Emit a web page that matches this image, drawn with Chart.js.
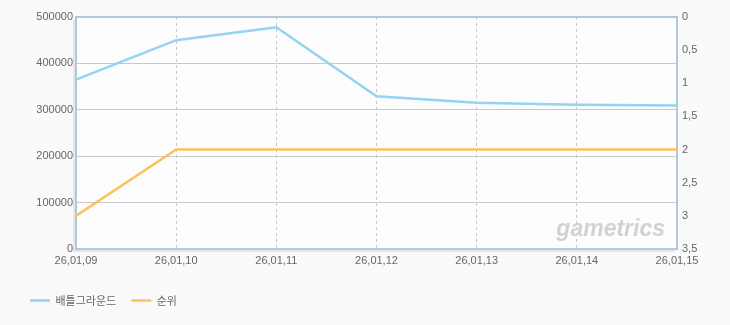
<!DOCTYPE html>
<html>
<head>
<meta charset="utf-8">
<script src="https://cdn.jsdelivr.net/npm/chart.js@4/dist/chart.umd.min.js"></script>
<style>
  html, body { margin: 0; padding: 0; background: #fafafa; }
  #wrap { width: 730px; height: 325px; }
</style>
</head>
<body>
<div id="wrap"><canvas id="chart" width="730" height="325"></canvas></div>
<script>
// data
const dates = ["26,01,09", "26,01,10", "26,01,11", "26,01,12", "26,01,13", "26,01,14", "26,01,15"];
const players = [365000, 450000, 478000, 329000, 315000, 311000, 309000];
const ranks = [3, 2, 2, 2, 2, 2, 2];

const tickFont = { family: "'Liberation Sans', Arial, 'Noto Sans CJK KR'", size: 11 };

// plot frame + watermark
const framePlugin = {
  id: "frame",
  beforeDraw(chart) {
    const { ctx, chartArea: a } = chart;
    ctx.save();
    ctx.fillStyle = "#fdfdfd";
    ctx.fillRect(a.left, a.top, a.right - a.left, a.bottom - a.top);
    ctx.restore();
  },
  beforeDatasetsDraw(chart) {
    const { ctx, chartArea: a } = chart;
    ctx.save();
    // soft shadow bottom / left
    ctx.strokeStyle = "rgba(0,0,0,0.08)";
    ctx.lineWidth = 2;
    ctx.beginPath();
    ctx.moveTo(a.left - 2, a.top + 2);
    ctx.lineTo(a.left - 2, a.bottom + 2);
    ctx.lineTo(a.right - 2, a.bottom + 2);
    ctx.stroke();
    ctx.strokeStyle = "#b4c6da";
    ctx.lineWidth = 2;
    ctx.strokeRect(a.left, a.top, a.right - a.left, a.bottom - a.top);
    // watermark
    ctx.font = "italic bold 23px 'Liberation Sans', Arial";
    ctx.fillStyle = "#d2d2d2";
    ctx.textAlign = "right";
    ctx.textBaseline = "alphabetic";
    ctx.fillText("gametrics", a.right - 12, a.bottom - 13);
    ctx.restore();
  }
};

new Chart(document.getElementById("chart"), {
  type: "line",
  data: {
    labels: dates,
    datasets: [
      {
        label: "배틀그라운드",
        data: players,
        yAxisID: "y",
        borderColor: "#93d3f3",
        backgroundColor: "#93d3f3",
        borderWidth: 2.5,
        pointRadius: 0,
        tension: 0
      },
      {
        label: "순위",
        data: ranks,
        yAxisID: "y1",
        borderColor: "#ffbf5e",
        backgroundColor: "#ffbf5e",
        borderWidth: 2.5,
        pointRadius: 0,
        tension: 0
      }
    ]
  },
  options: {
    responsive: false,
    animation: false,
    layout: { padding: { left: 15, right: 0, top: 17, bottom: 9 } },
    plugins: {
      tooltip: { enabled: false },
      legend: {
        position: "bottom",
        align: "start",
        labels: {
          usePointStyle: true,
          pointStyle: "line",
          pointStyleWidth: 20,
          padding: 15,
          color: "#666",
          font: { family: "'Noto Sans CJK KR', 'Liberation Sans'", size: 11 }
        }
      }
    },
    scales: {
      x: {
        offset: false,
        grid: {
          color: "#c8c8c8",
          lineWidth: 1,
          drawTicks: false
        },
        border: { display: false, dash: [3, 3] },
        ticks: {
          color: "#666",
          font: tickFont,
          maxRotation: 0,
          autoSkip: false,
          padding: 5
        },
        afterFit(scale) { scale.height = 31; }
      },
      y: {
        position: "left",
        min: 0,
        max: 500000,
        grid: {
          color: (c) => (c.tick && (c.tick.value === 0 || c.tick.value === 500000)) ? "rgba(0,0,0,0)" : "#c8c8c8",
          drawTicks: false
        },
        border: { display: false },
        ticks: {
          stepSize: 100000,
          color: "#666",
          font: tickFont,
          padding: 3,
          callback: (v) => String(v)
        },
        afterFit(scale) { scale.width = 61; }
      },
      y1: {
        position: "right",
        min: 0,
        max: 3.5,
        reverse: true,
        grid: { display: false, drawTicks: false },
        border: { display: false },
        ticks: {
          stepSize: 0.5,
          color: "#666",
          font: tickFont,
          padding: 5,
          callback: (v) => String(v).replace(".", ",")
        },
        afterFit(scale) { scale.width = 53; }
      }
    }
  },
  plugins: [framePlugin]
});
</script>
</body>
</html>
